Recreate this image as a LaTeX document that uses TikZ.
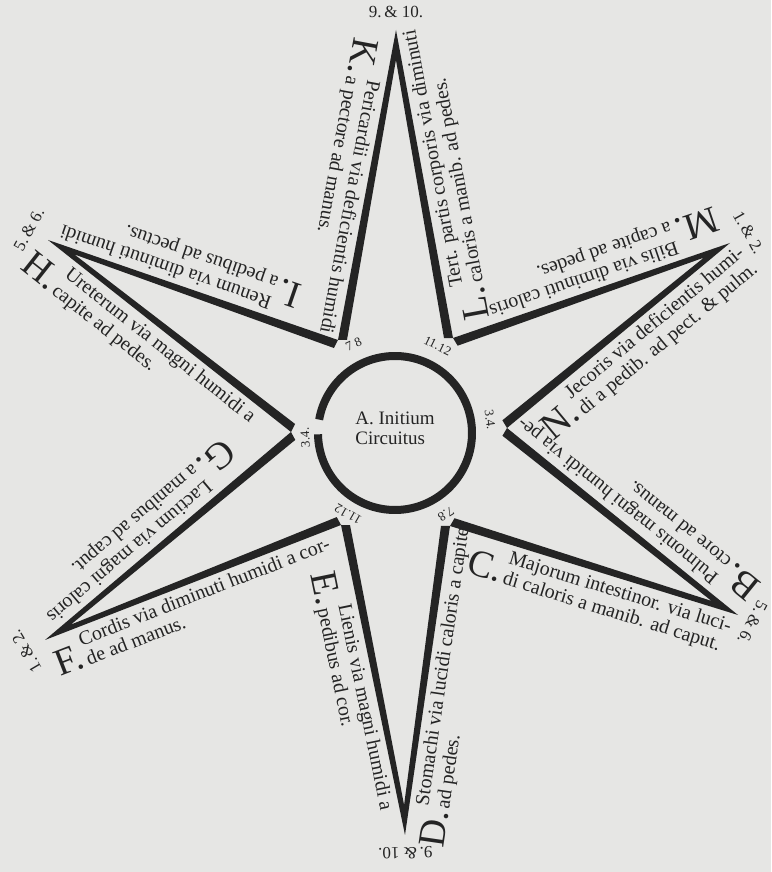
\documentclass[tikz,border=0pt]{standalone}
\usepackage{fontspec}
\setmainfont{Liberation Serif}
\usetikzlibrary{calc}
\definecolor{paper}{HTML}{E6E6E4}
\definecolor{ink}{HTML}{242424}
\tikzset{
  band/.style={fill=ink},
  ring/.style={draw=ink, line width=8pt},
  lbl/.style={sloped, allow upside down, anchor=north west, inner sep=4pt, text=ink, font=\fontsize{20}{21}\selectfont},
  num/.style={inner sep=0pt, text=ink, font=\fontsize{13}{13}\selectfont},
  tipn/.style={inner sep=0pt, text=ink, font=\fontsize{17}{17}\selectfont}}
\newcommand{\capl}[1]{{\fontsize{38}{38}\selectfont #1}\,}
\newcommand{\twol}[2]{\begin{tabular}[b]{@{}l@{}}#1\\#2\end{tabular}}

\begin{document}
\begin{tikzpicture}[x=1pt, y=1pt]
\fill[paper] (0,0) rectangle (771,872);
\useasboundingbox (0,0) rectangle (771,872);
% centre, points of the star and the corners between them
\coordinate (O) at (395,439);
\coordinate (Kt) at (396,842);
\coordinate (Mt) at (730,629);
\coordinate (Bt) at (738,257);
\coordinate (Dt) at (405,37);
\coordinate (Ft) at (45,232);
\coordinate (Ht) at (48,632);
\coordinate (L) at (453,534);
\coordinate (N) at (507,444);
\coordinate (C) at (450,346);
\coordinate (E) at (341,347);
\coordinate (G) at (291,440);
\coordinate (I) at (338,532);
% arms
\foreach \a/\t/\b in {I/Kt/L, L/Mt/N, N/Bt/C, C/Dt/E, E/Ft/G, G/Ht/I}
  {\coordinate (mid) at ($(\a)!.5!(\b)$);
   \fill[band] (\a) -- (\t) -- (\b) -- ($(\b)!9pt!(\a)$) -- ($(\t)!30pt!(mid)$) -- ($(\a)!9pt!(\b)$) -- cycle;}
% circle
\draw[ring] (O) ++(181:77) arc[start angle=181, end angle=530, radius=77];
\node[text=ink, align=left, font=\fontsize{19}{20}\selectfont] (init) at ($(O)+(0,5)$) {A. Initium\\Circuitus};
\foreach \w/\r/\s [count=\i] in {115/98/{7 8}, 64/97/{11.12}, 8/96/{3.4.}, 183/90/{3.4.}, 240/94/{11.12}, 302/96/{7.8}}
  \node[num, rotate=\w-90] (r\i) at ($(O)+(\w:\r)$) {\s};
% numbers at the points
\foreach \t/\f/\s in {Kt/1.045/{9.\,\& 10.}, Mt/1.055/{1.\,\& 2.}, Bt/1.042/{5.\,\& 6.}, Dt/1.045/{9.\,\& 10.}, Ft/1.055/{1.\,\& 2.}, Ht/1.055/{5.\,\& 6.}}
  \path let \p1=($(\t)-(O)$), \n1={atan2(\y1,\x1)} in node[tipn, rotate=\n1-90] (n\t) at ($(O)!\f!(\t)$) {\s};
% texts along the arms
\path (Kt) -- (I) node[lbl, pos=.03] (kl) {\capl{K.}\twol{Pericardii via deficientis humidi}{a pectore ad manus.}};
\path (L) -- (Kt) node[lbl, pos=.03] (ll) {\capl{L.}\twol{Tert. partis corporis via diminuti}{caloris a manib. ad pedes.}};
\path (Mt) -- (L) node[lbl, pos=0] (ml) {\capl{M.}\twol{Bilis via diminuti caloris}{a capite ad pedes.}};
\path (N) -- (Mt) node[lbl, pos=.08] (nl) {\capl{N.}\twol{Jecoris via deficientis humi-}{di a pedib. ad pect. \& pulm.}};
\path (Bt) -- (N) node[lbl, pos=-.01] (bl) {\capl{B.}\twol{Pulmonis magni humidi via pe-}{ctore ad manus.}};
\path (C) -- (Bt) node[lbl, pos=.08] (cl) {\capl{C.}\twol{Majorum intestinor. via luci-}{di caloris a manib. ad caput.}};
\path (Dt) -- (C) node[lbl, pos=-.04] (dl) {\capl{D.}\twol{Stomachi via lucidi caloris a capite}{ad pedes.}};
\path (E) -- (Dt) node[lbl, pos=.12] (el) {\capl{E.}\twol{Lienis via magni humidi a}{pedibus ad cor.}};
\path (Ft) -- (E) node[lbl, pos=-.01] (fl) {\capl{F.}\twol{Cordis via diminuti humidi a cor-}{de ad manus.}};
\path (G) -- (Ft) node[lbl, pos=.16] (gl) {\capl{G.}\twol{Lactium via magni caloris}{a manibus ad caput.}};
\path (Ht) -- (G) node[lbl, pos=-.03] (hl) {\capl{H.}\twol{Ureterum via magni humidi a}{capite ad pedes.}};
\path (I) -- (Ht) node[lbl, pos=.15] (il) {\capl{I.}\twol{Renum via diminuti humidi}{a pedibus ad pectus.}};
\end{tikzpicture}
\end{document}
